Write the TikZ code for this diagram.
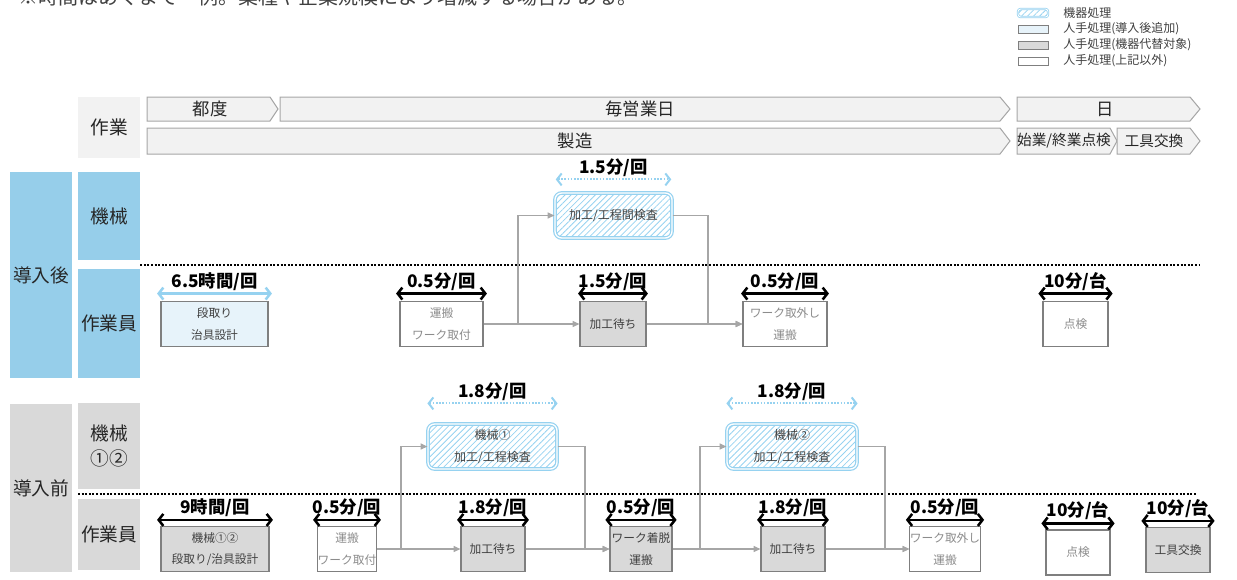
\documentclass[tikz,border=0pt]{standalone}
\usepackage{fontspec}
\setmainfont{Noto Sans CJK JP}
\usetikzlibrary{arrows.meta,patterns.meta,calc}
\definecolor{skyb}{RGB}{150,206,234}
\definecolor{hatchb}{RGB}{150,210,240}
\definecolor{paleb}{RGB}{231,243,250}
\definecolor{boxg}{RGB}{217,217,217}
\definecolor{secg}{RGB}{217,217,217}
\definecolor{hdrg}{RGB}{242,242,242}
\definecolor{lineg}{RGB}{166,166,166}
\definecolor{bordg}{RGB}{127,127,127}
\definecolor{txtg}{RGB}{140,140,140}
\definecolor{txtd}{RGB}{64,64,64}
\tikzset{
  lbl/.style={fill=#1, minimum width=46.5pt, font=\fontsize{14}{19}\selectfont, align=center, inner sep=0pt, text=black!85},
  chev/.style={fill=hdrg, draw=lineg, line width=0.75pt},
  hdr/.style={font=\fontsize{13}{15}\selectfont, inner sep=0pt, text=black!85},
  hdrs/.style={font=\fontsize{11}{13}\selectfont, inner sep=0pt, text=black!85},
  pbox/.style={draw=bordg, line width=0.9pt, align=center, inner sep=0pt, minimum height=33.75pt, font=\fontsize{8.8}{16}\selectfont},
  wbox/.style={pbox, fill=white, text=txtg},
  gbox/.style={pbox, fill=boxg, text=txtd},
  bbox/.style={pbox, fill=paleb, text=txtd},
  mbox/.style={draw=hatchb, double=white, double distance=1pt, line width=0.9pt, rounded corners=5pt,
    pattern={Lines[angle=45,distance=3.2pt,line width=0.6pt]}, pattern color=hatchb,
    align=center, inner sep=0pt, minimum height=33.75pt, font=\fontsize{9}{16}\selectfont, text=txtd},
  conn/.style={draw=lineg, line width=0.9pt, -{Triangle[length=5pt,width=4.5pt]}},
  dimA/.style={draw=black, line width=1.9pt, {Straight Barb[length=3.5pt,width=9pt]}-{Straight Barb[length=3.5pt,width=9pt]}},
  dimB/.style={dimA, draw=hatchb},
  dimC/.style={draw=hatchb, line width=1.5pt, dash pattern=on 1.2pt off 1.2pt, {Straight Barb[length=3.5pt,width=9pt]}-{Straight Barb[length=3.5pt,width=9pt]}},
  dimtxt/.style={font=\bfseries\fontsize{13}{15}\selectfont, inner sep=1.5pt, above, text=black},
  sepline/.style={line width=0.8pt, dash pattern=on 1.5pt off 1.2pt},
  legtxt/.style={anchor=west, font=\fontsize{9}{11}\selectfont, inner sep=0pt, text=txtd},
}
\newcommand\dimover[5]{\draw[#1] ([shift={(-#4,#3)}]#2.north west) -- node[dimtxt]{#5} ([shift={(#4,#3)}]#2.north east);}
\begin{document}
\begin{tikzpicture}[x=0.75pt,y=-0.75pt]
\useasboundingbox (0,0) rectangle (1237,579);
\clip (0,0) rectangle (1237,579);
% cut-off note
\node[anchor=base west, font=\fontsize{15}{18}\selectfont, text=txtd, inner sep=0pt] (note) at (18,4.5) {※時間はあくまで一例。業種や企業規模により増減する場合がある。};
% legend
\node[mbox, rounded corners=2pt, minimum width=22.5pt, minimum height=6pt, double distance=0.6pt, line width=0.6pt] (lg1) at (1033,13) {};
\node[bbox, minimum width=22.5pt, minimum height=6pt, line width=0.6pt] (lg2) at (1033,29) {};
\node[gbox, minimum width=22.5pt, minimum height=6pt, line width=0.6pt] (lg3) at (1033,45) {};
\node[wbox, minimum width=22.5pt, minimum height=6pt, line width=0.6pt] (lg4) at (1033,61) {};
\node[legtxt] (lt1) at (1063,13) {機器処理};
\node[legtxt] (lt2) at (1063,29) {人手処理(導入後追加)};
\node[legtxt] (lt3) at (1063,45) {人手処理(機器代替対象)};
\node[legtxt] (lt4) at (1063,61) {人手処理(上記以外)};
% header
\node[lbl=hdrg, minimum height=45.75pt] (sagyo) at (109,127.5) {作業};
\draw[chev] (147,97) -- (270,97) -- (278,109) -- (270,121) -- (147,121) -- cycle;
\draw[chev] (280,97) -- (1000,97) -- (1010,109) -- (1000,121) -- (280,121) -- cycle;
\draw[chev] (1017,97) -- (1190,97) -- (1200,109) -- (1190,121) -- (1017,121) -- cycle;
\draw[chev] (147,128) -- (1000,128) -- (1010,141) -- (1000,154) -- (147,154) -- cycle;
\draw[chev] (1017,128) -- (1110,128) -- (1117,141) -- (1110,154) -- (1017,154) -- cycle;
\draw[chev] (1117,128) -- (1190,128) -- (1200,141) -- (1190,154) -- (1117,154) -- cycle;
\node[hdr] (h1) at (210,109) {都度};
\node[hdr] (h2) at (640,109) {毎営業日};
\node[hdr] (h3) at (1105,109) {日};
\node[hdr] (h4) at (575,141) {製造};
\node[hdrs] (h5) at (1064,141) {始業/終業点検};
\node[hdrs] (h6) at (1154,141) {工具交換};
% after section labels
\node[lbl=skyb, minimum height=154.5pt] (aft) at (41,275) {導入後};
\node[lbl=skyb, minimum height=66pt] (aftM) at (109,216) {機械};
\node[lbl=skyb, minimum height=81.75pt] (aftW) at (109,323.5) {作業員};
\draw[sepline] (aftM.south east |- 0,265) -- (1200,265);
% before section labels
\node[lbl=secg, minimum height=126pt] (bef) at (41,488) {導入前};
\node[lbl=secg, minimum height=64.5pt] (befM) at (109,446) {機械\\①②};
\node[lbl=secg, minimum height=53.25pt] (befW) at (109,534.5) {作業員};
\draw[sepline] (78,494) -- (1197,494);
% after nodes
\node[bbox, minimum width=80.25pt] (u1) at (214.5,324) {段取り\\治具設計};
\node[wbox, minimum width=62.25pt] (u2) at (441.5,324) {運搬\\ワーク取付};
\node[gbox, minimum width=49.5pt] (u3) at (613,324) {加工待ち};
\node[wbox, minimum width=63pt] (u4) at (785,324) {ワーク取外し\\運搬};
\node[wbox, minimum width=48.75pt] (u5) at (1075.5,324) {点検};
\node[mbox, minimum width=87.75pt] (um) at (613.5,215.5) {加工/工程間検査};
\coordinate (j1) at (518,324);
\coordinate (j2) at (708,324);
\draw[conn] (u2.east) -- (j1) |- (um.west);
\draw[conn] (j1) -- (u3.west);
\draw[conn] (um.east) -| (j2) -- (u4.west);
\draw[conn] (u3.east) -- (u4.west);
\dimover{dimB}{u1}{5.5pt}{2.5pt}{6.5時間/回}
\dimover{dimA}{u2}{5.5pt}{2.5pt}{0.5分/回}
\dimover{dimA}{u3}{5.5pt}{1pt}{1.5分/回}
\dimover{dimA}{u4}{5.5pt}{1pt}{0.5分/回}
\dimover{dimA}{u5}{5.5pt}{3pt}{10分/台}
\dimover{dimC}{um}{9.75pt}{-1pt}{1.5分/回}
% before nodes
\node[gbox, minimum width=81pt] (l1) at (215,549) {機械①②\\段取り/治具設計};
\node[wbox, minimum width=43.5pt] (l2) at (347,549) {運搬\\ワーク取付};
\node[gbox, minimum width=48pt] (l3) at (493,549) {加工待ち};
\node[gbox, minimum width=46.5pt] (l4) at (641,549) {ワーク着脱\\運搬};
\node[gbox, minimum width=48pt] (l5) at (793,549) {加工待ち};
\node[wbox, minimum width=49.5pt] (l6) at (945,549) {ワーク取外し\\運搬};
\node[wbox, minimum width=48pt] (l7) at (1078,552.5) {点検};
\node[gbox, minimum width=48pt] (l8) at (1178,550) {工具交換};
\node[mbox, minimum width=96.75pt] (lm1) at (492.5,446.5) {機械①\\加工/工程検査};
\node[mbox, minimum width=97.5pt] (lm2) at (792,446.5) {機械②\\加工/工程検査};
\coordinate (j3) at (401,549);
\coordinate (j4) at (585,549);
\coordinate (j5) at (700,549);
\coordinate (j6) at (885,549);
\draw[conn] (l2.east) -- (j3) |- (lm1.west);
\draw[conn] (j3) -- (l3.west);
\draw[conn] (lm1.east) -| (j4) -- (l4.west);
\draw[conn] (l3.east) -- (l4.west);
\draw[conn] (l4.east) -- (j5) |- (lm2.west);
\draw[conn] (j5) -- (l5.west);
\draw[conn] (lm2.east) -| (j6) -- (l6.west);
\draw[conn] (l5.east) -- (l6.west);
\dimover{dimA}{l1}{4.5pt}{2.5pt}{9時間/回}
\dimover{dimA}{l2}{4.5pt}{3pt}{0.5分/回}
\dimover{dimA}{l3}{4.5pt}{2.5pt}{1.8分/回}
\dimover{dimA}{l4}{4.5pt}{3pt}{0.5分/回}
\dimover{dimA}{l5}{4.5pt}{2.5pt}{1.8分/回}
\dimover{dimA}{l6}{4.5pt}{2.5pt}{0.5分/回}
\dimover{dimA}{l7}{4.5pt}{3pt}{10分/台}
\dimover{dimA}{l8}{4.5pt}{3pt}{10分/台}
\dimover{dimC}{lm1}{15pt}{0pt}{1.8分/回}
\dimover{dimC}{lm2}{15pt}{0pt}{1.8分/回}
\end{tikzpicture}
\end{document}
